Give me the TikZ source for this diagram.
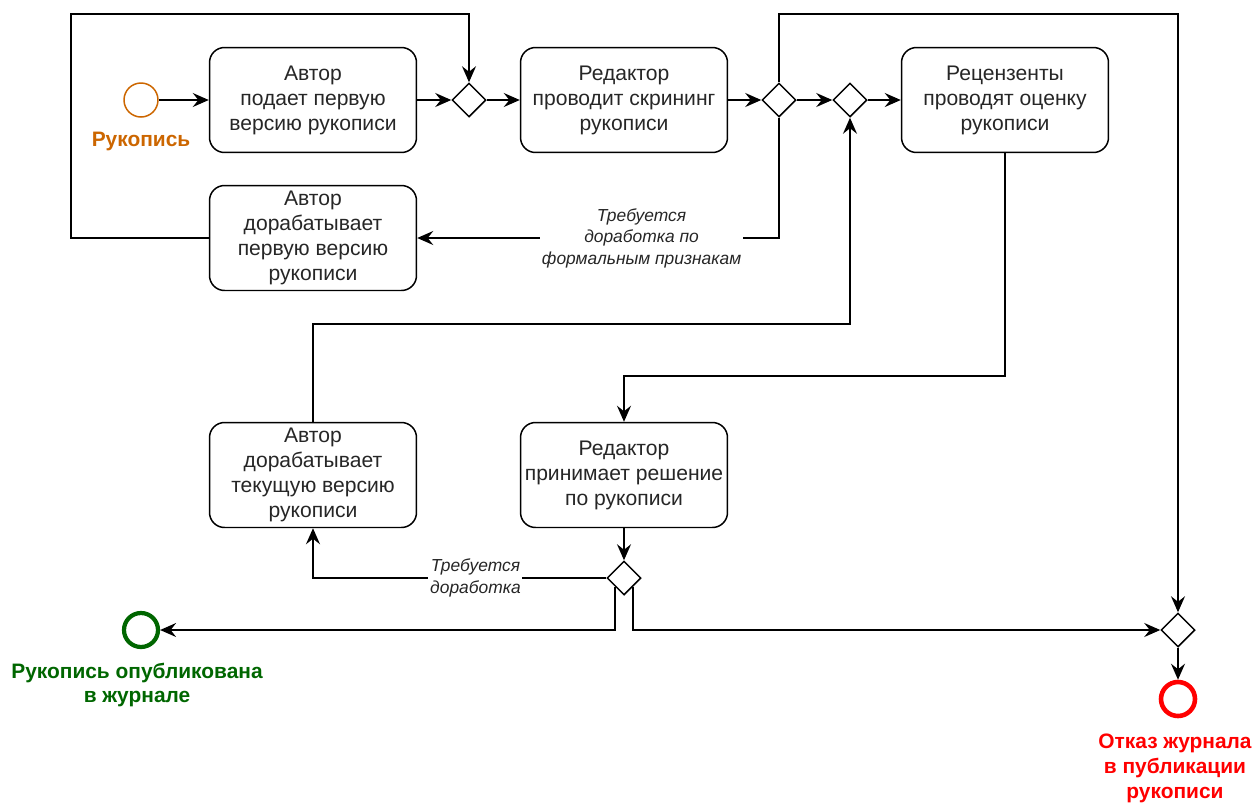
\documentclass[tikz,border=0pt]{standalone}
\usepackage{fontspec}
\setmainfont{Liberation Sans}
\usepackage{tikz}
\usetikzlibrary{shapes.geometric,arrows.meta}
\definecolor{startorange}{HTML}{CC6600}
\definecolor{endgreen}{HTML}{006600}
\definecolor{endred}{HTML}{FF0000}

\begin{document}
\begin{tikzpicture}[x=0.02cm,y=-0.02cm,
	task/.style={draw,rounded corners=0.3cm,line width=0.85pt,minimum width=4.14cm,minimum height=2.1cm,inner sep=1.5pt,align=center,text=black!85,font=\fontsize{12}{14.2}\selectfont},
	gate/.style={draw,diamond,line width=0.85pt,minimum width=0.68cm,minimum height=0.68cm,inner sep=0pt},
	flow/.style={line width=0.85pt,-{Stealth[length=3.2mm,width=2.8mm,inset=1.1mm]}},
	cond/.style={fill=white,align=center,inner sep=1pt,text=black!85,font=\fontsize{9.9}{12.2}\selectfont\itshape},
	event/.style={circle,draw,minimum size=0.68cm,inner sep=0pt},
	evlabel/.style={align=center,font=\fontsize{11.9}{14.2}\selectfont\bfseries}]
		\useasboundingbox (0,0) rectangle (1255,802);
		% events
		\node[event,draw=startorange,line width=0.85pt] (start) at (141,100) {};
		\node[evlabel,text=startorange] (startlbl) at (141,141) {Рукопись};
		\node[event,draw=endgreen,line width=2.4pt] (pub) at (141,630) {};
		\node[evlabel,text=endgreen] (publbl) at (137,685) {Рукопись опубликована\\в журнале};
		\node[event,draw=endred,line width=2.6pt] (rej) at (1178,699) {};
		\node[evlabel,text=endred] (rejlbl) at (1175,768) {Отказ журнала\\в публикации\\рукописи};
		% tasks
		\node[task] (a1) at (313,100) {Автор\\подает первую\\версию рукописи};
		\node[task] (e1) at (624,100) {Редактор\\проводит скрининг\\рукописи};
		\node[task] (rev) at (1005,100) {Рецензенты\\проводят оценку\\рукописи};
		\node[task] (a2) at (313,238) {Автор\\дорабатывает\\первую версию\\рукописи};
		\node[task] (a3) at (313,475) {Автор\\дорабатывает\\текущую версию\\рукописи};
		\node[task] (e2) at (624,475) {Редактор\\принимает решение\\по рукописи};
		% gateways
		\node[gate] (g1) at (469,100) {};
		\node[gate] (g2) at (779,100) {};
		\node[gate] (g3) at (850,100) {};
		\node[gate] (g4) at (624,578) {};
		\node[gate] (g5) at (1178,630) {};
		% bends
		\coordinate (topL) at (71,14);
		\coordinate (topR) at (1178,14);
		\coordinate (revdown) at (624,376);
		\coordinate (a3up) at (850,324);
		% flows
		\draw[flow] (start) -- (a1);
		\draw[flow] (a1) -- (g1);
		\draw[flow] (g1) -- (e1);
		\draw[flow] (e1) -- (g2);
		\draw[flow] (g2) -- (g3);
		\draw[flow] (g3) -- (rev);
		\draw[flow] (a2.west) -| (topL) -| (g1.north);
		\draw[flow] (g2.south) |- node[cond,pos=0.69] {Требуется\\доработка по\\формальным признакам} (a2.east);
		\draw[flow] (g2.north) |- (topR) -- (g5.north);
		\draw[flow] (rev.south) |- (revdown) -- (e2.north);
		\draw[flow] (e2) -- (g4);
		\draw[flow] (g4.west) -| node[cond,pos=0.223] {Требуется\\доработка} (a3.south);
		\draw[flow] (a3.north) |- (a3up) -- (g3.south);
		\draw[flow] (g4.south west) |- (pub);
		\draw[flow] (g4.south east) |- (g5);
		\draw[flow] (g5) -- (rej);
	\end{tikzpicture}
\end{document}
